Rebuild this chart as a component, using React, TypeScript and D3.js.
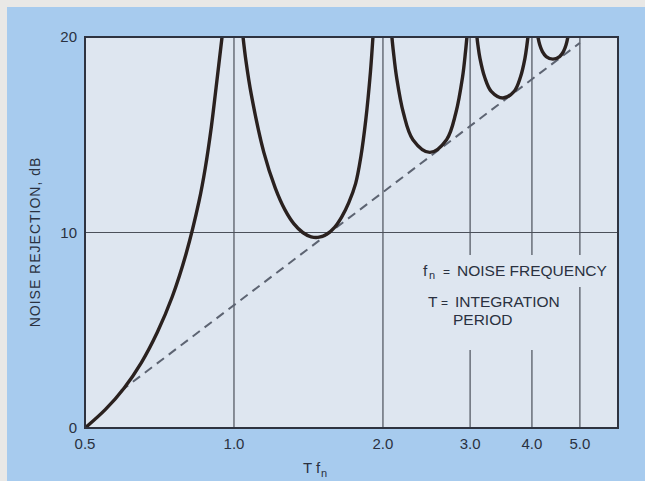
import React from "react";
import * as d3 from "d3";

// ---- data ----
const xTicks = [0.5, 1, 2, 3, 4, 5];
const xTickLabels = ["0.5", "1.0", "2.0", "3.0", "4.0", "5.0"];
const yTicks = [0, 10, 20];
const yTickLabels = ["0", "10", "20"];
const xGrid = [1, 2, 3, 4, 5];
const yGrid = [10];

// noise rejection lobes (Tf, dB)
const lobe1: [number, number][] = [
  [0.5, 0], [0.55, 0.95], [0.6, 2.05], [0.65, 3.35], [0.7, 4.9], [0.75, 6.7],
  [0.8, 8.9], [0.85, 11.6], [0.875, 13.3], [0.9, 15.4], [0.92, 17.4], [0.946, 20],
];
const lobe2: [number, number][] = [
  [1.043, 20], [1.057, 18.8], [1.084, 17.05], [1.149, 14.1], [1.212, 12.27],
  [1.267, 11.17], [1.322, 10.44], [1.377, 10.0], [1.432, 9.78], [1.487, 9.76],
  [1.542, 9.92], [1.597, 10.26], [1.651, 10.8], [1.706, 11.53], [1.761, 12.5],
  [1.805, 13.89], [1.846, 15.74], [1.887, 18.22], [1.909, 20],
];
const lobe3: [number, number][] = [
  [2.085, 20], [2.1, 19.23], [2.131, 17.94], [2.2, 16.11], [2.299, 14.75],
  [2.488, 14.1], [2.689, 14.75], [2.807, 16.11], [2.896, 17.94], [2.936, 19.23], [2.956, 20],
];
const lobe4: [number, number][] = [
  [3.097, 20], [3.111, 19.59], [3.141, 18.91], [3.211, 17.94], [3.31, 17.22],
  [3.495, 16.88], [3.683, 17.22], [3.791, 17.94], [3.872, 18.91], [3.908, 19.59], [3.926, 20],
];
const lobe5: [number, number][] = [
  [4.113, 20], [4.148, 19.6], [4.2, 19.25], [4.274, 19.0], [4.41, 18.87],
  [4.55, 19.0], [4.631, 19.25], [4.689, 19.6], [4.729, 20],
];
const lobes = [lobe1, lobe2, lobe3, lobe4, lobe5];

// dashed asymptote (Tf, dB)
const asymptote: [number, number][] = [[0.591, 1.9], [5.0, 19.7]];

// ---- layout ----
const W = 645;
const H = 481;
const plot = { left: 85, top: 37, right: 618, bottom: 428 };

const FONT = "'Liberation Sans', Arial, sans-serif";
const TEXT = "#2a3140";
const PANEL = "#a7cbee";
const PLOTBG = "#dee6f0";
const OUTER = "#e9e8e6";

export default function App() {
  const x = d3.scaleLog().domain([0.5, 5.97]).range([plot.left, plot.right]);
  const y = d3.scaleLinear().domain([0, 20]).range([plot.bottom, plot.top]);

  const line = d3
    .line<[number, number]>()
    .x((d) => x(d[0]))
    .y((d) => y(d[1]))
    .curve(d3.curveCatmullRom.alpha(0.5));
  const straight = d3
    .line<[number, number]>()
    .x((d) => x(d[0]))
    .y((d) => y(d[1]));

  React.useEffect(() => {
    document.body.style.margin = "0";
  }, []);

  return (
    <svg
      width={W}
      height={H}
      style={{ position: "absolute", left: 0, top: 0, display: "block" }}
      fontFamily={FONT}
    >
      <defs>
        <clipPath id="plotclip">
          <rect
            x={plot.left}
            y={plot.top}
            width={plot.right - plot.left}
            height={plot.bottom - plot.top}
          />
        </clipPath>
      </defs>
      <rect x={0} y={0} width={W} height={H} fill={OUTER} />
      <rect x={7} y={7} width={W - 7} height={H - 7} fill={PANEL} />
      <rect
        x={plot.left}
        y={plot.top}
        width={plot.right - plot.left}
        height={plot.bottom - plot.top}
        fill={PLOTBG}
      />

      {/* grid */}
      {xGrid.map((v) => (
        <line
          key={"gx" + v}
          x1={x(v)}
          x2={x(v)}
          y1={plot.top}
          y2={plot.bottom}
          stroke="#4b505a"
          strokeWidth={1.2}
        />
      ))}
      {yGrid.map((v) => (
        <line
          key={"gy" + v}
          x1={plot.left}
          x2={plot.right}
          y1={y(v)}
          y2={y(v)}
          stroke="#4b505a"
          strokeWidth={1.2}
        />
      ))}

      {/* note boxes hide the grid */}
      <rect x={415} y={255} width={197} height={32} fill={PLOTBG} />
      <rect x={415} y={287} width={156} height={63} fill={PLOTBG} />

      {/* curves */}
      <g clipPath="url(#plotclip)">
        <path
          d={straight(asymptote) || ""}
          fill="none"
          stroke="#5d6472"
          strokeWidth={2}
          strokeDasharray="9 6"
        />
        {lobes.map((l, i) => (
          <path
            key={"lobe" + i}
            d={line(l) || ""}
            fill="none"
            stroke="#2a211f"
            strokeWidth={3.4}
            strokeLinejoin="round"
          />
        ))}
      </g>

      {/* frame */}
      <rect
        x={plot.left}
        y={plot.top}
        width={plot.right - plot.left}
        height={plot.bottom - plot.top}
        fill="none"
        stroke="#2e3340"
        strokeWidth={2}
      />

      {/* tick labels */}
      {xTicks.map((v, i) => (
        <text
          key={"xt" + v}
          x={x(v)}
          y={449}
          textAnchor="middle"
          fontSize={15}
          fill={TEXT}
        >
          {xTickLabels[i]}
        </text>
      ))}
      {yTicks.map((v, i) => (
        <text
          key={"yt" + v}
          x={77}
          y={y(v)}
          dy="0.36em"
          textAnchor="end"
          fontSize={15}
          fill={TEXT}
        >
          {yTickLabels[i]}
        </text>
      ))}

      {/* axis titles */}
      <text
        transform="translate(40,242) rotate(-90)"
        textAnchor="middle"
        fontSize={14}
        letterSpacing={1}
        fill={TEXT}
      >
        NOISE REJECTION, dB
      </text>
      <text x={303} y={473} fontSize={15} fill={TEXT}>
        T
        <tspan x={316}>f</tspan>
        <tspan x={321} dy={4} fontSize={11}>
          n
        </tspan>
      </text>

      {/* notes */}
      <text y={276} fontSize={15.5} fill={TEXT}>
        <tspan x={423}>f</tspan>
        <tspan x={429} dy={3} fontSize={11}>
          n
        </tspan>
        <tspan x={443} dy={-3} fontSize={12}>
          =
        </tspan>
        <tspan x={457}>NOISE FREQUENCY</tspan>
      </text>
      <text y={307} fontSize={15.5} fill={TEXT}>
        <tspan x={428}>T</tspan>
        <tspan x={441} fontSize={12}>
          =
        </tspan>
        <tspan x={455}>INTEGRATION</tspan>
      </text>
      <text x={453} y={325} fontSize={15.5} fill={TEXT}>
        PERIOD
      </text>
    </svg>
  );
}
